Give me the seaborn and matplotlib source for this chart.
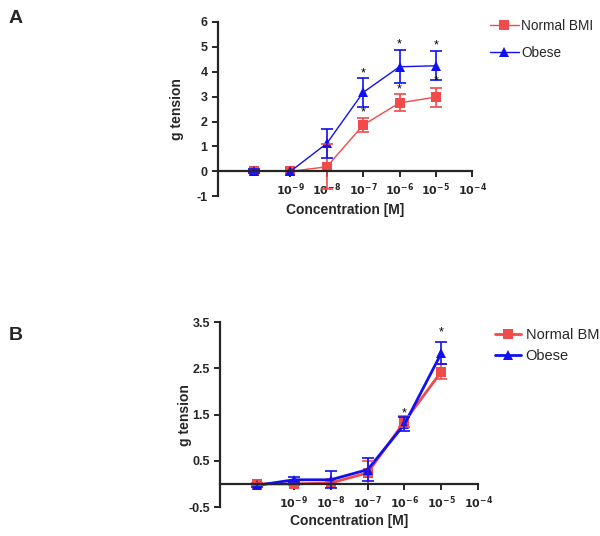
import numpy as np
import pandas as pd
import matplotlib
matplotlib.use("Agg")
import matplotlib.pyplot as plt
import seaborn as sns

# log10 concentration; -10 is the no-drug baseline
log_conc = [-10, -9, -8, -7, -6, -5]
x_ticks = [-9, -8, -7, -6, -5, -4]

# Panel A
a_normal = [0.0, 0.0, 0.18, 1.86, 2.75, 2.98]
a_normal_err = [0.06, 0.0, 0.9, 0.27, 0.34, 0.38]
a_obese = [0.0, 0.0, 1.12, 3.17, 4.2, 4.24]
a_obese_err = [0.08, 0.0, 0.58, 0.59, 0.66, 0.58]
a_star_x = [-7, -6, -5, -7, -6, -5]
a_star_y = [3.95, 5.1, 5.05, 2.35, 3.3, 3.6]

# Panel B
b_normal = [0.0, 0.0, 0.02, 0.24, 1.35, 2.43]
b_normal_err = [0.03, 0.02, 0.02, 0.25, 0.12, 0.16]
b_obese = [-0.03, 0.09, 0.09, 0.31, 1.29, 2.83]
b_obese_err = [0.03, 0.05, 0.18, 0.25, 0.15, 0.23]
b_star_x = [-6, -5]
b_star_y = [1.52, 3.28]

RED = "#f04a4a"
BLUE = "#1010f0"

sns.set_style("ticks")
plt.rcParams["font.family"] = ["Liberation Sans", "DejaVu Sans"]


def draw_panel(ax, normal, normal_err, obese, obese_err, star_x, star_y,
               ylim, yticks, ylabels, lw, labels, labelpad, leg):
    df = pd.DataFrame({
        "conc": log_conc * 2,
        "tension": normal + obese,
        "group": [labels[0]] * 6 + [labels[1]] * 6,
    })
    sns.lineplot(data=df, x="conc", y="tension", hue="group", style="group",
                 markers={labels[0]: "s", labels[1]: "^"}, dashes=False,
                 palette={labels[0]: RED, labels[1]: BLUE},
                 markersize=7, markeredgewidth=0, linewidth=lw, ax=ax)
    ax.errorbar(log_conc, normal, yerr=normal_err, fmt="none", ecolor=RED,
                elinewidth=1.2, capsize=4, capthick=1.2)
    ax.errorbar(log_conc, obese, yerr=obese_err, fmt="none", ecolor=BLUE,
                elinewidth=1.2, capsize=4, capthick=1.2)
    for sx, sy in zip(star_x, star_y):
        ax.text(sx, sy, "*", ha="center", va="center", fontsize=9, color="black")

    ax.set_xlim(-11, -4)
    ax.set_ylim(*ylim)
    ax.spines["bottom"].set_position(("data", 0))
    ax.spines["top"].set_visible(False)
    ax.spines["right"].set_visible(False)
    for sp in ("left", "bottom"):
        ax.spines[sp].set_linewidth(1.6)
    ax.set_xticks(x_ticks)
    ax.set_xticklabels([r"$\mathbf{10^{%d}}$" % t for t in x_ticks], fontsize=8)
    ax.set_yticks(yticks)
    ax.set_yticklabels(ylabels, fontsize=9, fontweight="bold")
    ax.tick_params(width=1.4, length=4)
    ax.set_ylabel("g tension", fontsize=10, fontweight="bold", labelpad=labelpad)
    ax.set_xlabel("")
    ax.text(0.5, -0.04, "Concentration [M]", transform=ax.transAxes,
            ha="center", va="top", fontsize=10, fontweight="bold")
    handles, _ = ax.get_legend_handles_labels()
    ax.legend(handles, labels, loc="upper left", bbox_to_anchor=leg["anchor"],
              bbox_transform=ax.figure.transFigure, borderaxespad=0, borderpad=0,
              frameon=False, fontsize=leg["fs"], handlelength=leg["hl"],
              handletextpad=leg["pad"], labelspacing=leg["sp"])


fig = plt.figure(figsize=(6.0, 5.36), dpi=100)
ax_a = fig.add_axes([0.363, 0.634, 0.424, 0.325])
ax_b = fig.add_axes([0.367, 0.054, 0.430, 0.345])

draw_panel(ax_a, a_normal, a_normal_err, a_obese, a_obese_err, a_star_x, a_star_y,
           (-1, 6), list(range(-1, 7)), [str(v) for v in range(-1, 7)], 1.0,
           ["Normal BMI", "Obese"], 8.5,
           {"anchor": (490 / 600, 1 - 19 / 536), "hl": 2.1, "pad": 0.2,
            "sp": 0.95, "fs": 9.8})
draw_panel(ax_b, b_normal, b_normal_err, b_obese, b_obese_err, b_star_x, b_star_y,
           (-0.5, 3.5), [-0.5, 0.5, 1.5, 2.5, 3.5],
           ["-0.5", "0.5", "1.5", "2.5", "3.5"], 2.0,
           ["Normal BM", "Obese"], -2.5,
           {"anchor": (495 / 600, 1 - 328 / 536), "hl": 1.8, "pad": 0.3,
            "sp": 0.5, "fs": 10.5})

fig.text(0.015, 0.965, "A", fontsize=14, fontweight="bold", va="center")
fig.text(0.015, 0.375, "B", fontsize=14, fontweight="bold", va="center")

fig.savefig("out.png", dpi=100)
